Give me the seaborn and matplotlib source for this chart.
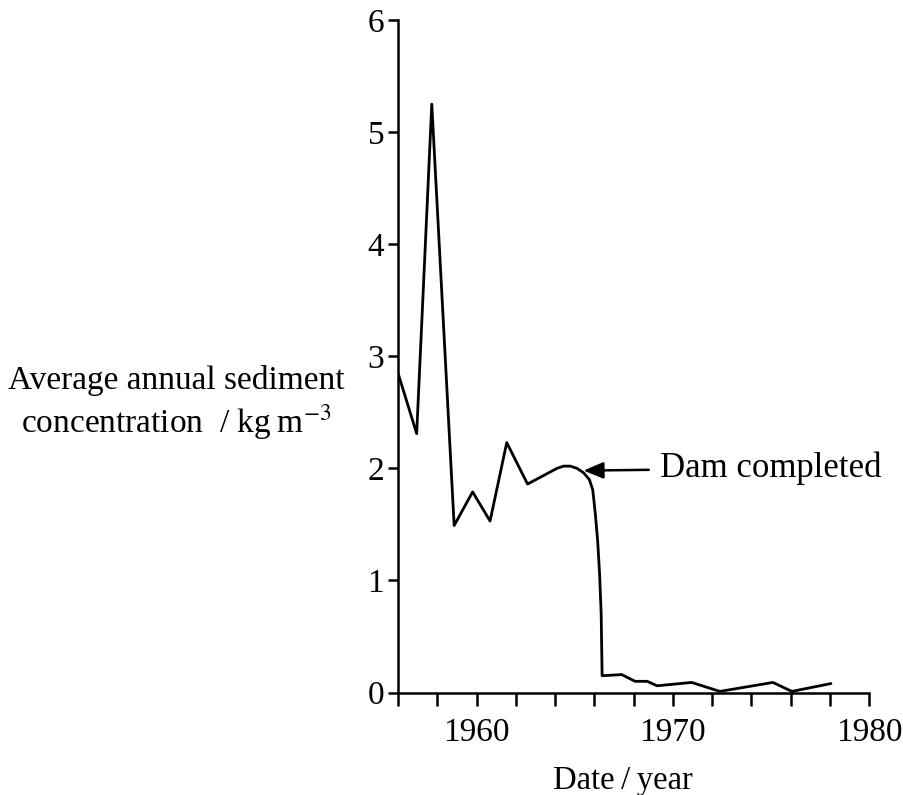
import numpy as np
import matplotlib
matplotlib.use("Agg")
import matplotlib.pyplot as plt
import seaborn as sns

# values
years = [1956.0, 1956.95, 1957.72, 1958.86, 1959.8, 1960.69, 1961.54, 1962.6,
         1964.1, 1964.44, 1964.78, 1965.12, 1965.46, 1965.75, 1965.92, 1966.05,
         1966.17, 1966.27, 1966.35, 1966.4, 1967.4, 1968.08, 1968.7, 1969.2,
         1970.96, 1972.4, 1975.1, 1976.07, 1978.06]
conc = [2.85, 2.31, 5.25, 1.49, 1.79, 1.53, 2.23, 1.86,
        2.0, 2.02, 2.02, 2.0, 1.96, 1.90, 1.81, 1.60,
        1.36, 1.06, 0.71, 0.15, 0.16, 0.10, 0.10, 0.06,
        0.09, 0.01, 0.09, 0.01, 0.08]

dam_year = 1965.45
dam_conc = 1.98
dam_text = "Dam completed"

x_ticks = np.arange(1956, 1981, 2)
x_labels = [str(t) if t in (1960, 1970, 1980) else "" for t in x_ticks]
y_ticks = [0, 1, 2, 3, 4, 5, 6]

sns.set_style("ticks")
plt.rcParams["font.family"] = ["Liberation Serif", "DejaVu Serif"]
plt.rcParams["mathtext.fontset"] = "stix"
plt.rcParams["text.color"] = "black"
plt.rcParams["axes.labelcolor"] = "black"

fig = plt.figure(figsize=(9.04, 7.95), dpi=100)
ax = fig.add_axes([0.4403, 0.1289, 0.521, 0.8459])

sns.lineplot(x=years, y=conc, ax=ax, color="black", linewidth=2.0, estimator=None)

ax.set_xlim(1956, 1980)
ax.set_ylim(0, 6)
ax.set_xticks(x_ticks)
ax.set_xticklabels(x_labels)
ax.set_yticks(y_ticks)
ax.tick_params(axis="both", colors="black", labelcolor="black", labelsize=24,
               width=1.8, direction="out")
ax.tick_params(axis="x", length=9, pad=9)
ax.tick_params(axis="y", length=7, pad=3)
for side in ["top", "right"]:
    ax.spines[side].set_visible(False)
for side in ["left", "bottom"]:
    ax.spines[side].set_linewidth(1.8)
    ax.spines[side].set_color("black")

ax.set_xlabel("Date\u2009/\u2009year", fontsize=23.5, color="black")
ax.xaxis.set_label_coords(0.478, -0.108)
ax.set_ylabel("Average annual sediment\nconcentration  / kg\u2009m$^{-3}$", fontsize=24,
              color="black", rotation=0, ha="center", va="center",
              multialignment="center")
ax.yaxis.set_label_coords(-0.471, 0.43)

ax.annotate(dam_text, xy=(dam_year, dam_conc), xytext=(1969.37, 2.0),
            fontsize=25, color="black", ha="left", va="center",
            arrowprops=dict(arrowstyle="-|>,head_length=0.6,head_width=0.25",
                            color="black", lw=1.8, mutation_scale=20,
                            shrinkA=6, shrinkB=0))

fig.savefig("out.png", dpi=100)
